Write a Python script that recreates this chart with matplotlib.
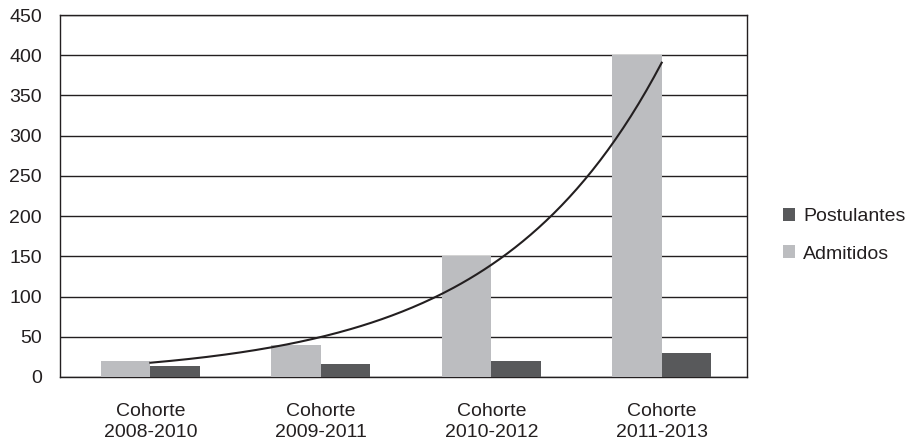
import matplotlib.pyplot as plt
import numpy as np

plt.rcParams['font.family'] = ['Liberation Sans', 'DejaVu Sans']

# data
cohortes = ['Cohorte\n2008-2010', 'Cohorte\n2009-2011', 'Cohorte\n2010-2012', 'Cohorte\n2011-2013']
admitidos = [20, 40, 150, 400]
postulantes = [14, 16.5, 20, 30]

c_light = '#bcbdc0'
c_dark = '#58595b'
c_line = '#231f20'

fig = plt.figure(figsize=(9.11, 4.48), dpi=100)
ax = fig.add_axes([0.0659, 0.1585, 0.754, 0.808])

x = np.arange(len(cohortes))
w = 0.29
ax.bar(x - w/2, admitidos, w, color=c_light, zorder=3, label='Admitidos')
ax.bar(x + w/2, postulantes, w, color=c_dark, zorder=3, label='Postulantes')

# exponential trend line over Admitidos
b, a = np.polyfit(x, np.log(admitidos), 1)
xs = np.linspace(x[0], x[-1], 200)
ax.plot(xs, np.exp(a + b*xs), color=c_line, lw=1.5, zorder=4)

ax.set_ylim(0, 450)
ax.set_yticks(np.arange(0, 451, 50))
ax.set_xlim(-0.53, 3.5)
ax.set_xticks(x)
ax.set_xticklabels(cohortes, linespacing=1.3)
ax.yaxis.grid(True, color=c_line, lw=1, zorder=0)
ax.set_axisbelow(True)
for s in ax.spines.values():
    s.set_color(c_line)
    s.set_linewidth(1)
ax.tick_params(axis='both', length=0, labelsize=14, colors=c_line)
ax.tick_params(axis='y', pad=13)
ax.tick_params(axis='x', pad=19)

h, l = ax.get_legend_handles_labels()
leg = fig.legend(h[::-1], l[::-1], loc='center left', bbox_to_anchor=(0.84, 0.475),
                 frameon=False, fontsize=14, handlelength=0.65, handleheight=0.65,
                 labelspacing=1.05, handletextpad=0.4)
for t in leg.get_texts():
    t.set_color(c_line)

fig.savefig('out.png', dpi=100)
